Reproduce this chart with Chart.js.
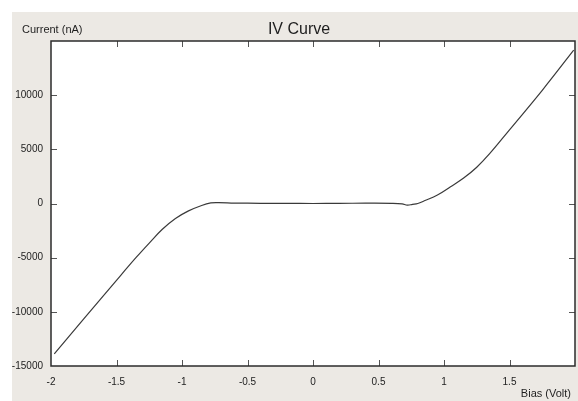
<!DOCTYPE html>
<html>
<head>
<meta charset="utf-8">
<script src="https://cdn.jsdelivr.net/npm/chart.js@4/dist/chart.umd.min.js"></script>
<style>
  html, body { margin: 0; padding: 0; background: #ffffff; }
  canvas { display: block; }
</style>
</head>
<body>
<canvas id="c" width="578" height="401"></canvas>
<script>
// ---- data ----
const biasVolt = [-1.975, -1.75, -1.5, -1.35, -1.25, -1.15, -1.05, -0.95, -0.85, -0.78, -0.72, -0.6, -0.4, -0.2, 0, 0.2, 0.4, 0.6, 0.68, 0.72, 0.76, 0.8, 0.85, 0.95, 1.05, 1.15, 1.25, 1.35, 1.5, 1.75, 1.99];
const currentNA = [-13880, -10660, -7090, -4980, -3650, -2380, -1380, -680, -180, 50, 80, 40, 20, 10, 0, 10, 30, 20, -30, -150, -80, 0, 250, 790, 1550, 2350, 3350, 4620, 6800, 10450, 14150];
const xTicks = [-2, -1.5, -1, -0.5, 0, 0.5, 1, 1.5];
const yTicks = [-15000, -10000, -5000, 0, 5000, 10000];
const chartTitle = 'IV Curve';
const yAxisLabel = 'Current (nA)';
const xAxisLabel = 'Bias (Volt)';

const points = biasVolt.map((v, i) => ({ x: v, y: currentNA[i] }));

const FONT = "'Liberation Sans', Arial, sans-serif";

const decorPlugin = {
  id: 'decor',
  beforeDraw(chart) {
    const ctx = chart.ctx;
    ctx.save();
    ctx.fillStyle = '#ffffff';
    ctx.fillRect(0, 0, chart.width, chart.height);
    ctx.fillStyle = '#ece9e4';
    ctx.fillRect(12, 12, chart.width - 12, chart.height - 12);
    const a = chart.chartArea;
    ctx.fillStyle = '#ffffff';
    ctx.fillRect(a.left, a.top, a.right - a.left, a.bottom - a.top);
    ctx.restore();
  },
  afterDraw(chart) {
    const ctx = chart.ctx;
    const a = chart.chartArea;
    const xs = chart.scales.x, ys = chart.scales.y;
    ctx.save();
    // inward tick marks on all four sides
    ctx.strokeStyle = '#555555';
    ctx.lineWidth = 1;
    const tl = 6;
    ctx.beginPath();
    xTicks.forEach(v => {
      const px = Math.round(xs.getPixelForValue(v)) + 0.5;
      if (px <= a.left + 1 || px >= a.right - 1) return;
      ctx.moveTo(px, a.bottom); ctx.lineTo(px, a.bottom - tl);
      ctx.moveTo(px, a.top); ctx.lineTo(px, a.top + tl);
    });
    yTicks.forEach(v => {
      const py = Math.round(ys.getPixelForValue(v)) + 0.5;
      if (py <= a.top + 1 || py >= a.bottom - 1) return;
      ctx.moveTo(a.left, py); ctx.lineTo(a.left + tl, py);
      ctx.moveTo(a.right, py); ctx.lineTo(a.right - tl, py);
    });
    ctx.stroke();
    // frame
    ctx.strokeStyle = '#2b2b2b';
    ctx.lineWidth = 1.5;
    ctx.strokeRect(a.left, a.top, a.right - a.left, a.bottom - a.top);
    // texts
    ctx.fillStyle = '#1e1e1e';
    ctx.textBaseline = 'middle';
    ctx.font = '16px ' + FONT;
    ctx.textAlign = 'center';
    ctx.fillText(chartTitle, 299, 30);
    ctx.font = '11px ' + FONT;
    ctx.textAlign = 'left';
    ctx.fillText(yAxisLabel, 22, 30);
    ctx.textAlign = 'right';
    ctx.fillText(xAxisLabel, 571, 394);
    ctx.restore();
  }
};

new Chart(document.getElementById('c'), {
  type: 'line',
  data: {
    datasets: [{
      data: points,
      borderColor: '#3a3a3a',
      borderWidth: 1.2,
      pointRadius: 0,
      fill: false,
      tension: 0.4
    }]
  },
  options: {
    responsive: false,
    animation: false,
    devicePixelRatio: 1,
    layout: { padding: { top: 41, right: 3, left: 0, bottom: 0 } },
    plugins: { legend: { display: false }, title: { display: false }, tooltip: { enabled: false } },
    scales: {
      x: {
        type: 'linear',
        min: -2, max: 2,
        grid: { display: false, drawTicks: false },
        border: { display: false },
        afterBuildTicks: (s) => { s.ticks = xTicks.map(v => ({ value: v })); },
        afterFit: (s) => { s.height = 35; },
        ticks: {
          padding: 10,
          color: '#222222',
          font: { family: FONT, size: 10 },
          maxRotation: 0,
          autoSkip: false,
          callback: (v) => String(v)
        }
      },
      y: {
        type: 'linear',
        min: -15000, max: 15000,
        grid: { display: false, drawTicks: false },
        border: { display: false },
        afterBuildTicks: (s) => { s.ticks = yTicks.map(v => ({ value: v })); },
        afterFit: (s) => { s.width = 51; },
        ticks: {
          padding: 8,
          color: '#222222',
          font: { family: FONT, size: 10 },
          autoSkip: false,
          callback: (v) => String(v)
        }
      }
    }
  },
  plugins: [decorPlugin]
});
</script>
</body>
</html>
